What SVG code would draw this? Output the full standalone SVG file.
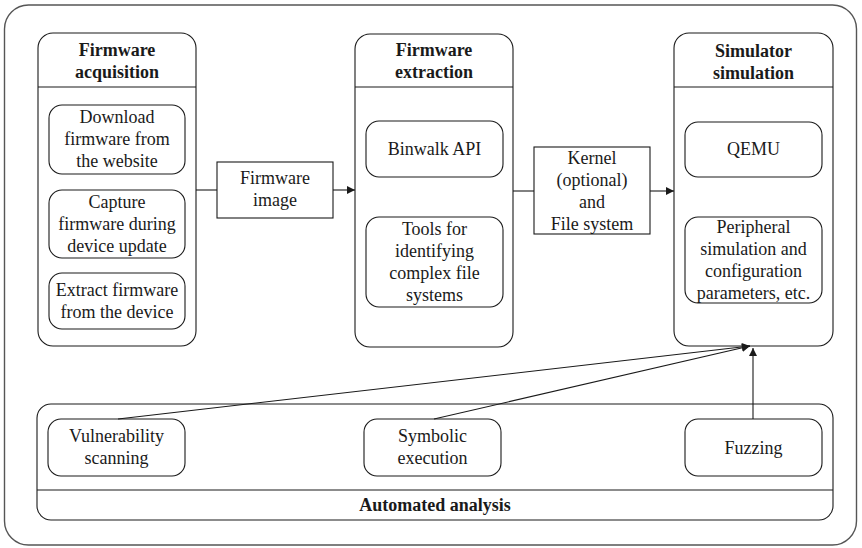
<svg xmlns="http://www.w3.org/2000/svg" width="862" height="548" viewBox="0 0 862 548">
<defs>
<style>
text{font-family:"Liberation Serif","Times New Roman",serif;font-size:18px;fill:#1a1a1a;text-anchor:middle}
.b{font-weight:bold}
.box{fill:none;stroke:#1a1a1a;stroke-width:1.1}
.ln{fill:none;stroke:#1a1a1a;stroke-width:1.1}
</style>
<marker id="ah" viewBox="0 0 10 10" refX="10" refY="5" markerWidth="10" markerHeight="8" markerUnits="userSpaceOnUse" orient="auto">
<path d="M0,0 L10,5 L0,10 z" fill="#1a1a1a"/>
</marker>
</defs>
<rect width="862" height="548" fill="#fff"/>
<rect x="4.5" y="5" width="852" height="540" rx="24" fill="none" stroke="#555" stroke-width="1.4"/>

<g id="acquisition">
<rect class="box" x="38" y="33" width="158" height="313" rx="15"/>
<line class="ln" x1="38" y1="87" x2="196" y2="87"/>
<text class="b" x="117" y="56">Firmware</text>
<text class="b" x="117" y="78">acquisition</text>
</g>
<g id="download">
<rect class="box" x="49" y="105" width="136" height="69" rx="13"/>
<text x="117" y="123">Download</text>
<text x="117" y="145">firmware from</text>
<text x="117" y="167">the website</text>
</g>
<g id="capture">
<rect class="box" x="49" y="190" width="136" height="68" rx="13"/>
<text x="117" y="208">Capture</text>
<text x="117" y="230">firmware during</text>
<text x="117" y="252">device update</text>
</g>
<g id="extract">
<rect class="box" x="49" y="273" width="136" height="56" rx="13"/>
<text x="117" y="296">Extract firmware</text>
<text x="117" y="318">from the device</text>
</g>

<g id="firmware-image">
<rect class="box" x="217" y="162" width="116" height="56"/>
<text x="275" y="184">Firmware</text>
<text x="275" y="206">image</text>
</g>

<g id="extraction">
<rect class="box" x="355" y="34" width="158" height="313" rx="15"/>
<line class="ln" x1="355" y1="87" x2="513" y2="87"/>
<text class="b" x="434" y="56">Firmware</text>
<text class="b" x="434" y="78">extraction</text>
</g>
<g id="binwalk">
<rect class="box" x="366" y="121" width="137" height="56" rx="13"/>
<text x="434.5" y="155">Binwalk API</text>
</g>
<g id="tools">
<rect class="box" x="366" y="217" width="137" height="90" rx="13"/>
<text x="434.5" y="235">Tools for</text>
<text x="434.5" y="257">identifying</text>
<text x="434.5" y="279">complex file</text>
<text x="434.5" y="301">systems</text>
</g>

<g id="kernel">
<rect class="box" x="534" y="147" width="116" height="87"/>
<text x="592" y="164">Kernel</text>
<text x="592" y="186">(optional)</text>
<text x="592" y="208">and</text>
<text x="592" y="230">File system</text>
</g>

<g id="simulator">
<rect class="box" x="674" y="33" width="159" height="313" rx="15"/>
<line class="ln" x1="674" y1="87" x2="833" y2="87"/>
<text class="b" x="753.5" y="57">Simulator</text>
<text class="b" x="753.5" y="79">simulation</text>
</g>
<g id="qemu">
<rect class="box" x="685" y="122" width="137" height="55" rx="13"/>
<text x="753.5" y="155">QEMU</text>
</g>
<g id="peripheral">
<rect class="box" x="685" y="217" width="137" height="86" rx="13"/>
<text x="753.5" y="233">Peripheral</text>
<text x="753.5" y="255">simulation and</text>
<text x="753.5" y="277">configuration</text>
<text x="753.5" y="299">parameters, etc.</text>
</g>

<g id="automated">
<rect class="box" x="37" y="404" width="796" height="116" rx="14"/>
<line class="ln" x1="37" y1="490" x2="833" y2="490"/>
<text class="b" x="435" y="511">Automated analysis</text>
</g>
<g id="vuln">
<rect class="box" x="48" y="419" width="137" height="57" rx="13"/>
<text x="116.5" y="442">Vulnerability</text>
<text x="116.5" y="464">scanning</text>
</g>
<g id="symbolic">
<rect class="box" x="364" y="419" width="137" height="57" rx="13"/>
<text x="432.5" y="442">Symbolic</text>
<text x="432.5" y="464">execution</text>
</g>
<g id="fuzzing">
<rect class="box" x="685" y="419" width="137" height="57" rx="13"/>
<text x="753.5" y="454">Fuzzing</text>
</g>

<g id="connectors">
<line class="ln" x1="196" y1="190" x2="217" y2="190"/>
<line class="ln" x1="333" y1="190" x2="355" y2="190" marker-end="url(#ah)"/>
<line class="ln" x1="513" y1="191" x2="534" y2="191"/>
<line class="ln" x1="650" y1="191" x2="674" y2="191" marker-end="url(#ah)"/>
<line class="ln" x1="118" y1="419" x2="750" y2="346" marker-end="url(#ah)"/>
<line class="ln" x1="434" y1="419" x2="750" y2="346" marker-end="url(#ah)"/>
<line class="ln" x1="753" y1="419" x2="753" y2="348" marker-end="url(#ah)"/>
</g>
</svg>
